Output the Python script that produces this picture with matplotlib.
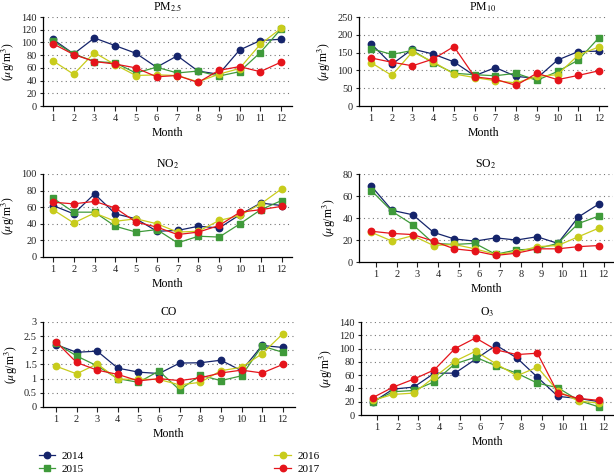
import matplotlib
matplotlib.use("Agg")
import matplotlib.pyplot as plt
import numpy as np

plt.rcParams['font.family'] = ['Liberation Serif', 'DejaVu Serif']
plt.rcParams['mathtext.fontset'] = 'stix'

months = list(range(1, 13))
years = ['2014', '2015', '2016', '2017']
colors = ['#15246b', '#3f9a3a', '#c8cc1c', '#e5141b']
markers = ['o', 's', 'o', 'o']

pm25 = {
    '2014': [105, 82, 107, 95, 83, 61, 79, 55, 50, 88, 103, 105],
    '2015': [102, 82, 70, 68, 52, 61, 52, 55, 47, 54, 84, 121],
    '2016': [71, 50, 84, 65, 48, 49, 48, 38, 50, 59, 97, 122],
    '2017': [98, 81, 70, 66, 60, 46, 48, 37, 56, 62, 54, 69],
}
pm10 = {
    '2014': [175, 117, 160, 146, 124, 85, 108, 83, 78, 129, 153, 154],
    '2015': [161, 145, 156, 121, 92, 88, 85, 92, 72, 97, 129, 192],
    '2016': [122, 86, 152, 124, 90, 80, 71, 65, 83, 88, 143, 166],
    '2017': [135, 123, 113, 132, 167, 82, 75, 58, 92, 74, 86, 99],
}
no2 = {
    '2014': [62, 52, 76, 52, 46, 31, 32, 37, 35, 51, 65, 62],
    '2015': [71, 54, 54, 37, 30, 33, 17, 25, 24, 40, 57, 68],
    '2016': [57, 41, 53, 43, 46, 40, 30, 31, 44, 50, 64, 82],
    '2017': [66, 64, 67, 59, 42, 36, 27, 30, 38, 54, 57, 61],
}
so2 = {
    '2014': [69, 47, 43, 27, 21, 19, 22, 20, 23, 17, 41, 53],
    '2015': [65, 46, 34, 17, 16, 17, 7, 11, 12, 17, 35, 42],
    '2016': [27, 19, 24, 15, 16, 12, 7, 9, 14, 15, 23, 31],
    '2017': [28, 26, 25, 19, 12, 10, 6, 8, 12, 12, 14, 15],
}
co = {
    '2014': [2.2, 1.93, 1.97, 1.37, 1.23, 1.18, 1.55, 1.56, 1.65, 1.28, 2.17, 2.1],
    '2015': [2.25, 1.8, 1.45, 1.0, 0.87, 1.27, 0.6, 1.12, 0.93, 1.1, 2.15, 1.93],
    '2016': [1.44, 1.17, 1.52, 0.98, 0.98, 0.97, 0.78, 0.87, 1.28, 1.4, 1.88, 2.58],
    '2017': [2.3, 1.57, 1.3, 1.15, 0.92, 1.0, 0.93, 1.03, 1.2, 1.3, 1.2, 1.5],
}
o3 = {
    '2014': [19, 39, 42, 63, 63, 84, 105, 86, 57, 28, 25, 20],
    '2015': [20, 35, 37, 50, 77, 87, 74, 63, 48, 41, 22, 12],
    '2016': [22, 31, 33, 57, 81, 96, 77, 59, 72, 36, 21, 18],
    '2017': [26, 42, 54, 68, 100, 116, 98, 91, 93, 33, 25, 22],
}

panels = [
    # title, data, rect, ylim, yticks, xlim, point offset
    (r'PM$_{2.5}$', pm25, [0.070, 0.7768, 0.4055, 0.1874], 140, np.arange(0, 141, 20), (0.52, 12.53), 0.0),
    (r'PM$_{10}$', pm10, [0.5847, 0.7768, 0.404, 0.1874], 250, np.arange(0, 251, 50), (0.42, 12.39), 0.0),
    (r'NO$_2$', no2, [0.070, 0.459, 0.4055, 0.1747], 100, np.arange(0, 101, 20), (0.52, 12.5), 0.0),
    (r'SO$_2$', so2, [0.5847, 0.4484, 0.4137, 0.185], 80, np.arange(0, 81, 20), (0.18, 12.45), -0.22),
    ('CO', co, [0.070, 0.1432, 0.410, 0.179], 3, [0, 0.5, 1, 1.5, 2, 2.5, 3], (0.37, 12.58), 0.0),
    (r'O$_3$', o3, [0.588, 0.1263, 0.412, 0.1958], 140, np.arange(0, 141, 20), (0.22, 12.5), -0.22),
]

fig = plt.figure(figsize=(6.14, 4.75), dpi=100)

handles = []
for title, data, rect, ytop, yticks, xlim, off in panels:
    ax = fig.add_axes(rect)
    x = np.array(months) + off
    hs = []
    for yr, c, m in zip(years, colors, markers):
        ms = 4.6 if m == 'o' else 4.2
        h, = ax.plot(x, data[yr], color=c, marker=m, markersize=ms,
                     linewidth=0.9, label=yr, clip_on=False, zorder=3)
        hs.append(h)
    handles = hs
    ax.set_ylim(0, ytop)
    ax.set_xlim(*xlim)
    ax.set_yticks(yticks)
    ax.set_yticklabels([('%g' % v) for v in yticks])
    ax.set_xticks(months)
    ax.set_xticklabels([str(mm) for mm in months])
    for v in yticks[1:]:
        ax.axhline(v, color='#777777', linestyle=(0, (1, 3)), linewidth=0.8, zorder=1)
    ax.spines['top'].set_visible(False)
    ax.spines['right'].set_visible(False)
    ax.spines['left'].set_linewidth(0.9)
    ax.spines['bottom'].set_linewidth(0.9)
    ax.tick_params(axis='both', labelsize=7.5, length=2.5, width=0.8, pad=2, colors='#222222')
    ax.tick_params(axis='x', length=3.5)
    ax.set_title(title, fontsize=8.5, pad=5)
    ax.set_xlabel('Month', fontsize=8.5, labelpad=3)
    ax.set_ylabel(r'($\mu$g/m$^3$)', fontsize=8.5, labelpad=3)

fig.legend(handles=handles, labels=years, ncol=2, loc='lower left',
           bbox_to_anchor=(0.052, -0.012), frameon=False, fontsize=8,
           columnspacing=17.1, handlelength=1.5, handletextpad=0.6,
           labelspacing=0.3, borderaxespad=0.2)

fig.savefig('out.png', dpi=100)
